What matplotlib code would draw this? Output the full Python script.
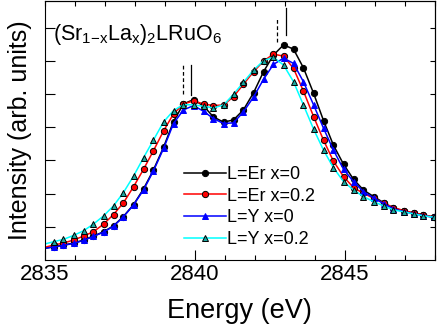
import numpy as np
import matplotlib
matplotlib.use("Agg")
import matplotlib.pyplot as plt

plt.rcParams['font.family'] = ['Liberation Sans', 'DejaVu Sans']
plt.rcParams['mathtext.fontset'] = 'custom'
plt.rcParams['mathtext.rm'] = 'Liberation Sans'
plt.rcParams['mathtext.it'] = 'Liberation Sans'

# photon energy (eV); first point only starts the line at the axis edge
energy = [2835.0,
          2835.30, 2835.63, 2835.97, 2836.30, 2836.63, 2836.97, 2837.30, 2837.63,
          2837.97, 2838.30, 2838.63, 2838.97, 2839.30, 2839.63, 2839.97, 2840.30,
          2840.63, 2840.97, 2841.30, 2841.63, 2841.97, 2842.30, 2842.63, 2842.97,
          2843.30, 2843.63, 2843.97, 2844.30, 2844.63, 2844.97, 2845.30, 2845.63,
          2845.97, 2846.30, 2846.63, 2846.97, 2847.30, 2847.63, 2847.97]

er_x0 = [0.35, 0.40, 0.45, 0.51, 0.60, 0.72, 0.85, 1.03, 1.31, 1.67, 2.14, 2.71, 3.40,
         4.17, 4.70, 4.83, 4.64, 4.31, 4.15, 4.22, 4.52, 5.04, 5.67, 6.17, 6.48,
         6.35, 5.79, 5.02, 4.20, 3.46, 2.88, 2.43, 2.11, 1.91, 1.73, 1.56, 1.48,
         1.41, 1.36, 1.29]
er_x02 = [0.38, 0.45, 0.51, 0.60, 0.72, 0.85, 1.08, 1.37, 1.72, 2.21, 2.73, 3.29, 3.89,
          4.40, 4.70, 4.79, 4.70, 4.65, 4.67, 4.92, 5.29, 5.67, 5.99, 6.20, 6.14,
          5.77, 5.09, 4.32, 3.61, 2.98, 2.51, 2.18, 2.01, 1.86, 1.72, 1.58, 1.49,
          1.42, 1.36, 1.30]
y_x0 = [0.35, 0.39, 0.44, 0.50, 0.59, 0.71, 0.84, 1.02, 1.30, 1.66, 2.11, 2.68, 3.36,
        4.11, 4.52, 4.65, 4.48, 4.26, 4.11, 4.13, 4.46, 4.91, 5.44, 5.89, 6.08,
        5.92, 5.37, 4.67, 3.97, 3.31, 2.73, 2.36, 2.06, 1.87, 1.70, 1.54, 1.46,
        1.39, 1.34, 1.28]
y_x02 = [0.48, 0.55, 0.62, 0.74, 0.88, 1.08, 1.33, 1.63, 2.03, 2.53, 3.08, 3.61, 4.16,
         4.50, 4.68, 4.67, 4.63, 4.58, 4.67, 4.99, 5.35, 5.72, 6.00, 6.11, 5.87,
         5.37, 4.67, 3.94, 3.31, 2.78, 2.36, 2.11, 1.91, 1.76, 1.63, 1.51, 1.45,
         1.39, 1.33, 1.29]

labels = ['L=Er x=0', 'L=Er x=0.2', 'L=Y x=0', 'L=Y x=0.2']

# peak markers: (energy, y bottom, y top, style)
peak_marks = [(2839.62, 5.00, 5.94, '--'), (2839.87, 4.97, 5.87, '-'),
              (2842.74, 6.58, 7.33, '--'), (2843.04, 6.78, 7.58, '-')]

fig = plt.figure(figsize=(4.37, 3.31), dpi=100)
ax = fig.add_axes([44.5/437, 71/331, 390/437, 259/331])

styles = [
    dict(color='black', marker='o', mfc='black', mec='black'),
    dict(color='red', marker='o', mfc='red', mec='black'),
    dict(color='blue', marker='^', mfc='blue', mec='blue'),
    dict(color='cyan', marker='^', mfc='#1aa8a0', mec='black'),
]
for ys, lab, st in zip([er_x0, er_x02, y_x0, y_x02], labels, styles):
    ax.plot(energy, ys, lw=1.1, ms=4.5, mew=0.7, markevery=slice(1, None),
            label=lab, **st)

for xe, y0, y1, ls in peak_marks:
    ax.plot([xe, xe], [y0, y1], color='black', lw=0.9, ls=ls, dashes=(3, 2) if ls == '--' else (None, None))

ax.set_xlim(2835, 2848)
ax.set_ylim(0, 7.8)
ax.set_xticks([2835, 2840, 2845])
ax.set_xticks(np.arange(2835, 2849, 1), minor=True)
ax.set_yticks(range(1, 8))
ax.set_yticklabels([])
ax.tick_params(axis='both', which='major', direction='in', length=7, width=0.8, labelsize=16, pad=3)
ax.tick_params(axis='x', which='minor', direction='in', length=3.6, width=0.8)

top = ax.secondary_xaxis('top')
top.set_xticks(np.arange(2835, 2849, 1))
top.tick_params(direction='in', length=3.6, width=0.8, labeltop=False)
right = ax.secondary_yaxis('right')
right.set_yticks(range(1, 8))
right.tick_params(direction='in', length=3.6, width=0.8, labelright=False)

ax.set_xlabel('Energy (eV)', fontsize=19.5, labelpad=9)
ax.set_ylabel('Intensity (arb. units)', fontsize=18, labelpad=6)

ax.text(0.022, 0.872, r'(Sr$_{1\mathrm{-}x}$La$_{x}$)$_{2}$LRuO$_{6}$', transform=ax.transAxes,
        fontsize=15.5, va='center', ha='left')

ax.legend(loc='upper left', bbox_to_anchor=(0.358, 0.363), frameon=False, fontsize=13,
          handlelength=2.3, handletextpad=0.1, labelspacing=0.26, borderaxespad=0,
          borderpad=0)

fig.savefig('out.png', dpi=100)
